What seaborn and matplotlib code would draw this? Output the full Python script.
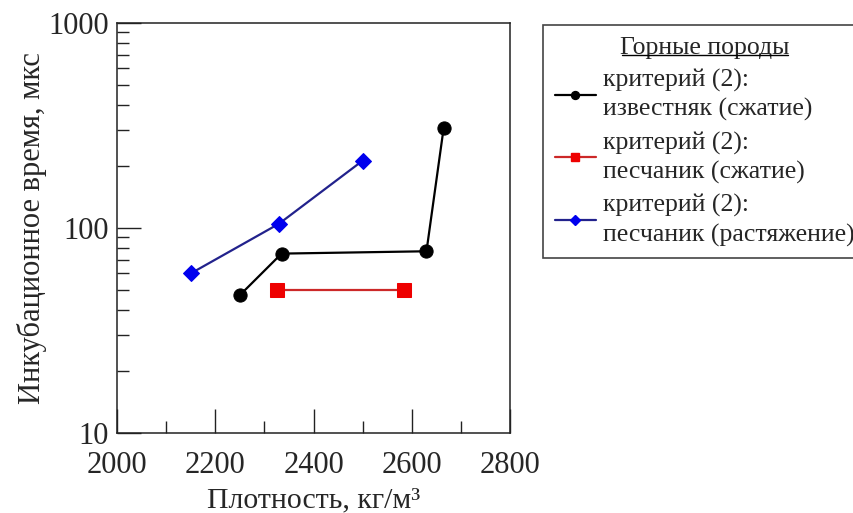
import matplotlib
matplotlib.use("Agg")
import matplotlib.pyplot as plt
import seaborn as sns
import pandas as pd
from matplotlib.lines import Line2D
from matplotlib.ticker import LogLocator, NullFormatter, FixedLocator

# ---- data ----
limestone_x = [2250, 2335, 2630, 2665]
limestone_y = [47, 75, 77, 308]
sandstone_c_x = [2325, 2585]
sandstone_c_y = [50, 50]
sandstone_t_x = [2150, 2330, 2500]
sandstone_t_y = [60, 105, 213]

labels = ["критерий (2):\nизвестняк (сжатие)",
          "критерий (2):\nпесчаник (сжатие)",
          "критерий (2):\nпесчаник (растяжение)"]
legend_title = "Горные породы"
x_label = "Плотность, кг/м³"
y_label = "Инкубационное время, мкс"
x_ticks = [2000, 2200, 2400, 2600, 2800]
y_ticks = [10, 100, 1000]

sns.set_style("ticks")
plt.rcParams['font.family'] = ['Liberation Serif', 'DejaVu Serif']

fig = plt.figure(figsize=(8.54, 5.13), dpi=100)
ax = fig.add_axes([117/854, 1-433/513, (510-117)/854, (433-23)/513])

styles = [
    (limestone_x, limestone_y, "black", "black", "o", 9.5),
    (sandstone_c_x, sandstone_c_y, "#cc2828", "#ee0000", "s", 9.5),
    (sandstone_t_x, sandstone_t_y, "#22228c", "#0000ee", "D", 8.5),
]
handles = []
for (xs, ys, lc, mc, m, ms), lab in zip(styles, labels):
    df = pd.DataFrame({"x": xs, "y": ys})
    sns.lineplot(data=df, x="x", y="y", ax=ax, color=lc, marker=m,
                 markersize=ms, markerfacecolor=mc, markeredgecolor=mc,
                 linewidth=1.6, sort=False, estimator=None, legend=False)
    handles.append(Line2D([], [], color=lc, marker=m, markersize=ms*0.6,
                          markerfacecolor=mc, markeredgecolor=mc,
                          linewidth=1.6, label=lab))

ax.set_yscale("log")
ax.set_xlim(2000, 2800)
ax.set_ylim(10, 1000)
ax.xaxis.set_major_locator(FixedLocator(x_ticks))
ax.xaxis.set_minor_locator(FixedLocator([2100, 2300, 2500, 2700]))
ax.yaxis.set_major_locator(FixedLocator(y_ticks))
ax.yaxis.set_minor_locator(LogLocator(base=10, subs=range(2, 10)))
ax.yaxis.set_minor_formatter(NullFormatter())
ax.set_yticklabels([str(t) for t in y_ticks])
ax.set_xticklabels([str(t) for t in x_ticks])

ax.tick_params(axis="both", which="major", direction="in", length=17,
               width=1.0, labelsize=22, color="#222222")
ax.tick_params(axis="x", which="major", pad=13)
ax.tick_params(axis="y", which="major", pad=6)
ax.tick_params(axis="both", which="minor", direction="in", length=8.5,
               width=1.0, color="#222222")
ax.tick_params(axis="y", which="both", right=False)
ax.tick_params(axis="x", which="both", top=False)
for s in ax.spines.values():
    s.set_linewidth(1.1)
    s.set_color("#222222")

ax.set_xlabel(x_label, fontsize=21.5, labelpad=5)
ax.set_ylabel(y_label, fontsize=22, labelpad=1)

leg = fig.legend(handles=handles, title=legend_title, loc="upper left",
                 bbox_to_anchor=(543/854, 1-25/513), fontsize=18.5,
                 title_fontsize=18.5, frameon=True, fancybox=False,
                 edgecolor="#444444", handlelength=1.6, handletextpad=0.3,
                 labelspacing=0.4, borderpad=0.45, borderaxespad=0,
                 framealpha=1.0)
leg.get_frame().set_linewidth(1.2)
for t in leg.get_texts():
    t.set_linespacing(1.35)

fig.canvas.draw()
r = fig.canvas.get_renderer()
bb = leg.get_title().get_window_extent(r)
inv = fig.transFigure.inverted()
(x0, y0), (x1, y1) = inv.transform([(bb.x0, bb.y0), (bb.x1, bb.y0)])
fig.add_artist(Line2D([x0 + 0.002, x1 - 0.002], [y0 + 0.007, y0 + 0.007],
                      color="black", linewidth=1.0, zorder=20,
                      transform=fig.transFigure))

fig.savefig("out.png", dpi=100)
